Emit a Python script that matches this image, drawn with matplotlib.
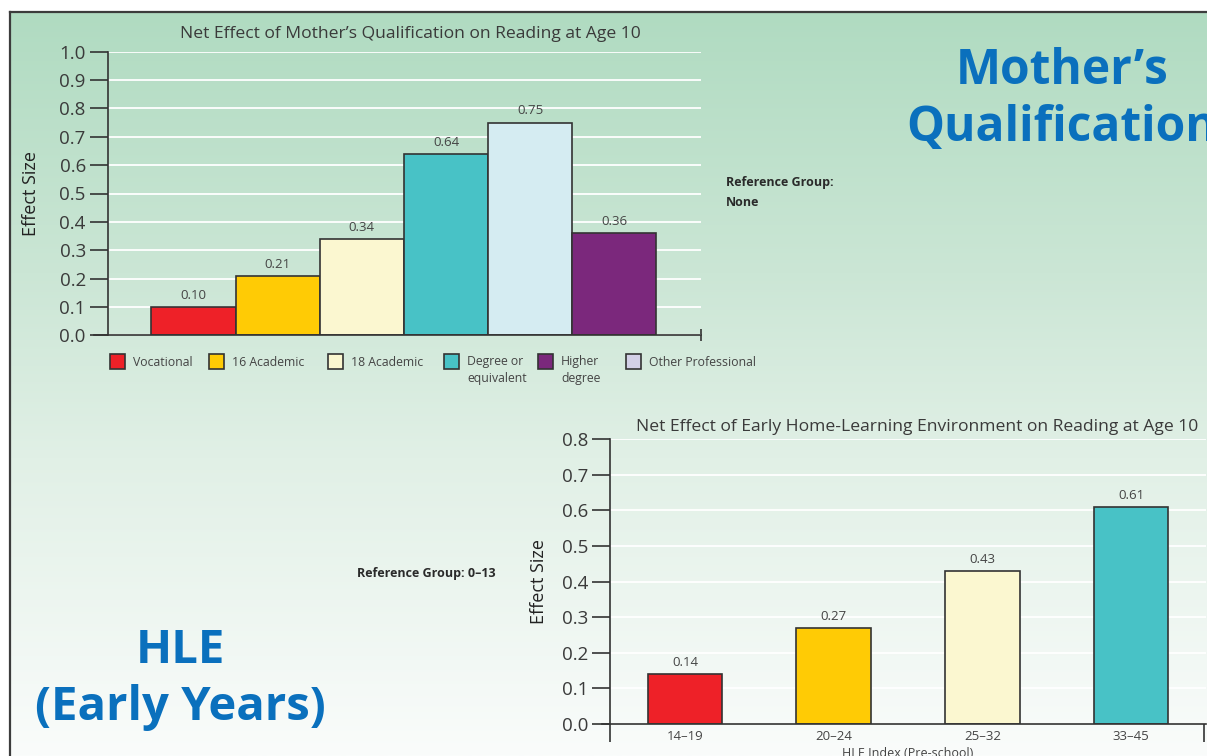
import numpy as np
import matplotlib
matplotlib.use("Agg")
import matplotlib.pyplot as plt
from matplotlib.patches import Rectangle
from matplotlib.colors import to_rgb

plt.rcParams['font.family'] = ['Open Sans', 'DejaVu Sans']

# data
mq_labels = ["Vocational", "16 Academic", "18 Academic", "Degree or\nequivalent", "Higher\ndegree", "Other Professional"]
mq_values = [0.10, 0.21, 0.34, 0.64, 0.75, 0.36]
mq_bar_colors = ["#ee2128", "#ffcb05", "#fbf7d0", "#48c2c6", "#d5ecf2", "#7b287c"]
mq_legend_colors = ["#ee2128", "#ffcb05", "#fbf7d0", "#48c2c6", "#7b287c", "#d3d0e7"]

hle_labels = ["14\u201319", "20\u201324", "25\u201332", "33\u201345"]
hle_values = [0.14, 0.27, 0.43, 0.61]
hle_colors = ["#ee2128", "#ffcb05", "#fbf7d0", "#48c2c6"]

W, H = 1207, 756
fig = plt.figure(figsize=(W / 100, H / 100), dpi=100)

# background gradient
bg = fig.add_axes([0, 0, 1, 1], zorder=-10)
stops_y = [0.0, 0.35, 0.6, 1.0]
stops_c = ["#b0dbc1", "#cbe6d5", "#e1f0e6", "#fafcfb"]
yy = np.linspace(0, 1, 300)
grad = np.zeros((300, 1, 3))
for k in range(3):
    grad[:, 0, k] = np.interp(yy, stops_y, [to_rgb(c)[k] for c in stops_c])
bg.imshow(grad, extent=[10, W, H, 12], aspect='auto')
bg.set_xlim(0, W)
bg.set_ylim(H, 0)
bg.plot([10, W], [12, 12], color="#3c3c3c", lw=1.6)
bg.plot([10, 10], [12, H], color="#3c3c3c", lw=1.6)
bg.axis('off')

txt = "#3a3a3a"


def style(ax, ymax):
    ax.set_facecolor("none")
    for s in ["top", "right"]:
        ax.spines[s].set_visible(False)
    ax.spines["left"].set_color("#333333")
    ax.spines["bottom"].set_color("#333333")
    ax.spines["left"].set_linewidth(1.2)
    ax.spines["bottom"].set_linewidth(1.2)
    ax.set_ylim(0, ymax)
    ax.set_yticks(np.arange(0, ymax + 0.001, 0.1))
    ax.set_yticklabels(["%.1f" % v for v in np.arange(0, ymax + 0.001, 0.1)])
    ax.tick_params(axis='y', length=13, width=1.2, color="#333333", labelsize=13.5,
                   labelcolor=txt, pad=3)
    ax.yaxis.grid(True, color="white", lw=1.3)
    ax.set_axisbelow(True)
    ax.spines["bottom"].set_zorder(5)


# top chart
ax1 = fig.add_axes([108 / W, 1 - 335.3 / H, (701 - 108) / W, (335.3 - 51.7) / H])
style(ax1, 1.0)
x1 = np.arange(len(mq_values))
ax1.bar(x1, mq_values, width=1.0, color=mq_bar_colors, edgecolor="#333333", lw=1.2, zorder=3)
ax1.set_xlim(-1.015, 6.03)
ax1.set_xticks([6.03])
ax1.set_xticklabels([""])
ax1.tick_params(axis='x', direction='inout', length=9, width=1.2, color="#333333")
ax1.spines["bottom"].set_bounds(-1.18, 6.03)
for xi, v in zip(x1, mq_values):
    ax1.text(xi, v + 0.018, "%.2f" % v, ha='center', va='bottom', fontsize=9.5, color="#444444")
ax1.set_title("Net Effect of Mother\u2019s Qualification on Reading at Age 10",
              fontsize=12.6, color=txt, pad=10, x=0.51)
ax1.set_ylabel("Effect Size", fontsize=13, color="#222222", labelpad=14)

# legend of top chart (drawn by hand to match spacing)
leg_x = [110, 209, 328, 444, 538, 626]
for lx, lab, col in zip(leg_x, mq_labels, mq_legend_colors):
    fig.patches.append(Rectangle((lx / W, 1 - 369 / H), 15 / W, 15 / H, transform=fig.transFigure,
                                 facecolor=col, edgecolor="#333333", lw=1.2))
    fig.text((lx + 23) / W, 1 - 355.5 / H, lab, fontsize=8.8, color="#444444", va='top',
             ha='left', linespacing=1.35)

fig.text(726 / W, 1 - 176 / H, "Reference Group:\nNone", fontsize=9, fontweight='bold',
         color="#2a2a2a", va='top', ha='left', linespacing=1.75)

# bottom chart
ax2 = fig.add_axes([610.5 / W, 1 - 724 / H, (1205.6 - 610.5) / W, (724 - 439.3) / H])
style(ax2, 0.8)
x2 = np.arange(len(hle_values))
ax2.bar(x2, hle_values, width=0.5, color=hle_colors, edgecolor="#333333", lw=1.2, zorder=3)
ax2.set_xlim(-0.5, 3.5)
ax2.set_xticks(x2)
ax2.set_xticklabels(hle_labels)
ax2.tick_params(axis='x', length=0, labelsize=9.5, labelcolor="#444444", pad=4)
ax2.set_xticks([-0.5, 3.49], minor=True)
ax2.tick_params(axis='x', which='minor', direction='out', length=13, width=1.2, color="#333333")
ax2.spines["bottom"].set_bounds(-0.56, 3.5)
for xi, v in zip(x2, hle_values):
    ax2.text(xi, v + 0.015, "%.2f" % v, ha='center', va='bottom', fontsize=9.5, color="#444444")
ax2.set_title("Net Effect of Early Home-Learning Environment on Reading at Age 10",
              fontsize=12.6, color=txt, pad=6, x=0.515)
ax2.set_ylabel("Effect Size", fontsize=13, color="#222222", labelpad=10)
ax2.set_xlabel("HLE Index (Pre-school)", fontsize=9, color="#444444", labelpad=0)

fig.text(496 / W, 1 - 573 / H, "Reference Group: 0\u201313", fontsize=9, fontweight='bold',
         color="#2a2a2a", va='center', ha='right')

# big headings
blue = "#0a70bd"
fig.text(1062 / W, 1 - 100 / H, "Mother\u2019s\nQualification", fontsize=34.5, fontweight='bold',
         color=blue, ha='center', va='center', linespacing=1.2)
fig.text(180 / W, 1 - 679 / H, "HLE\n(Early Years)", fontsize=34, fontweight='bold',
         color=blue, ha='center', va='center', linespacing=1.27)

fig.savefig("out.png", dpi=100)
